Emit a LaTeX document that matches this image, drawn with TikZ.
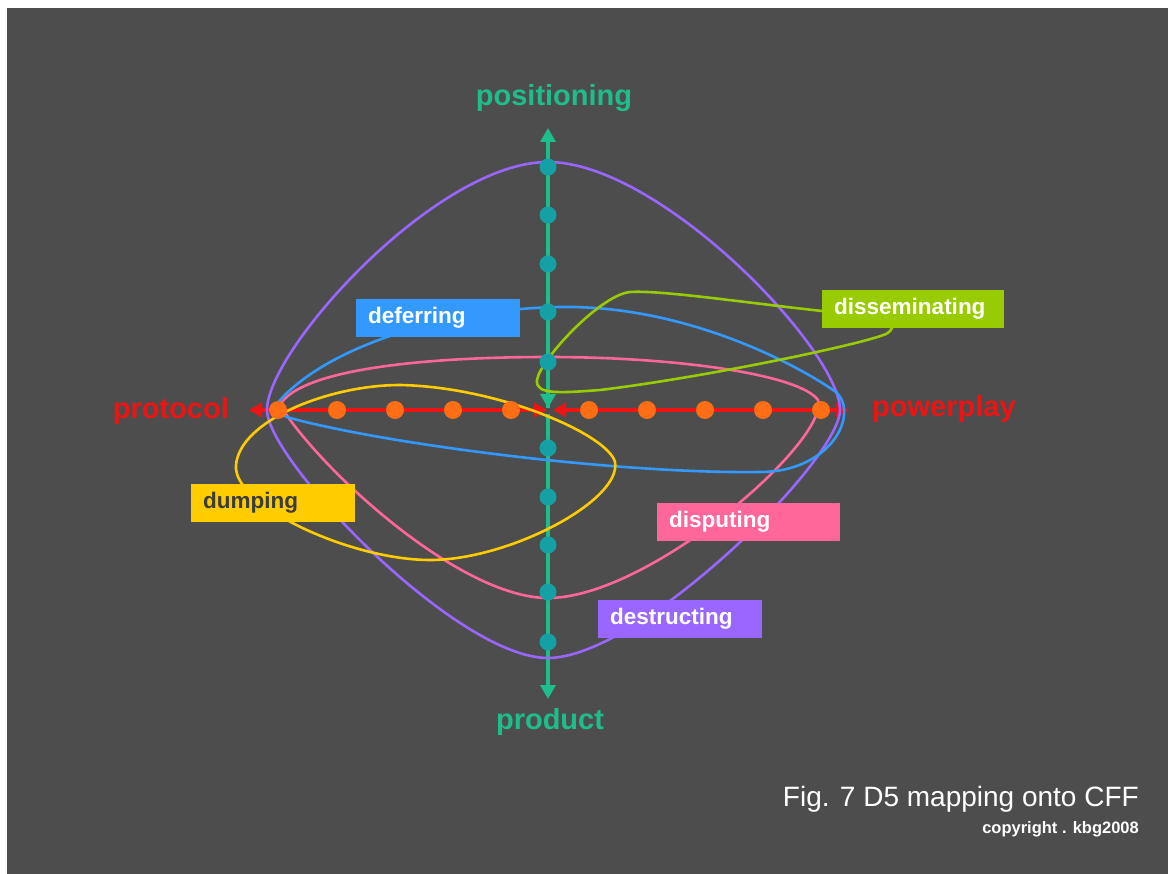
\documentclass[tikz,border=0pt]{standalone}
\usepackage{fontspec}
\setmainfont{Liberation Sans}
\usetikzlibrary{arrows.meta}
\definecolor{bg}{RGB}{77,77,77}
\definecolor{axteal}{RGB}{30,190,140}
\definecolor{dotteal}{RGB}{20,160,165}
\definecolor{axred}{RGB}{238,20,20}
\definecolor{dotorange}{RGB}{255,110,20}
\definecolor{cpurple}{RGB}{153,102,255}
\definecolor{cblue}{RGB}{51,153,255}
\definecolor{cpink}{RGB}{255,102,153}
\definecolor{cyellow}{RGB}{255,204,0}
\definecolor{cgreen}{RGB}{153,204,0}
\definecolor{darktext}{RGB}{60,60,60}
\tikzset{
  axlabel/.style={font=\fontsize{29}{34}\selectfont\bfseries, inner sep=0pt},
  lbox/.style={fill=#1, text=white, font=\fontsize{22.5}{26}\selectfont\bfseries,
    inner xsep=12pt, inner ysep=0pt, minimum height=38pt, align=left, anchor=north west},
  curve/.style={line width=2.6pt},
  tdot/.style={circle, fill=dotteal, minimum size=17pt, inner sep=0pt},
  odot/.style={circle, fill=dotorange, minimum size=18pt, inner sep=0pt},
  tarrow/.style={draw=axteal, line width=4pt, -{Triangle[width=15pt,length=14pt]}},
  rarrow/.style={draw=axred, line width=4pt, {Triangle[width=14pt,length=13pt]}-{Triangle[width=14pt,length=13pt]}},
}
\begin{document}
\begin{tikzpicture}[x=1pt,y=-1pt]
\useasboundingbox (0,0) rectangle (1168,874);
\fill[white] (0,0) rectangle (1168,874);
\fill[bg] (7,8) rectangle (1168,874);

% axes coordinates
\coordinate (top) at (548,128);
\coordinate (ctop) at (548,408);
\coordinate (cbot) at (548,414);
\coordinate (bot) at (548,699);
\coordinate (left) at (249,410);
\coordinate (cleft) at (547,410);
\coordinate (cright) at (553,410);
\coordinate (right) at (849,410);

% axes
\draw[tarrow] (ctop) -- (top);
\draw[tarrow] (548,300) -- (ctop);
\draw[tarrow] (cbot) -- (bot);
\draw[rarrow] (left) -- (cleft);
\draw[rarrow] (cright) -- (right);

% curves
% purple (destructing)
\draw[curve, draw=cpurple] (548,162) .. controls (660,162) and (840,350) .. (840,410)
  .. controls (840,460) and (640,658) .. (548,658)
  .. controls (456,658) and (267,460) .. (267,410)
  .. controls (267,350) and (436,162) .. (548,162) -- cycle;
% pink (disputing)
\draw[curve, draw=cpink] (280,405) .. controls (300,370) and (420,357) .. (548,357)
  .. controls (680,357) and (800,375) .. (818,400)
  .. controls (830,440) and (650,598) .. (548,598)
  .. controls (460,598) and (320,470) .. (280,405) -- cycle;
% blue (deferring)
\draw[curve, draw=cblue] (276,405) .. controls (320,350) and (440,309) .. (560,307)
  .. controls (680,305) and (790,360) .. (836,392)
  .. controls (860,415) and (830,472) .. (760,472)
  .. controls (620,474) and (390,445) .. (290,418)
  .. controls (275,413) and (272,409) .. (276,405) -- cycle;
% yellow (dumping)
\draw[curve, draw=cyellow] (236,465) .. controls (240,420) and (330,385) .. (400,385)
  .. controls (500,387) and (608,435) .. (615,462)
  .. controls (622,500) and (510,560) .. (430,560)
  .. controls (350,560) and (232,505) .. (236,465) -- cycle;
% green (disseminating)
\draw[curve, draw=cgreen] (880,313) -- (822,311) .. controls (740,302) and (660,290) .. (630,292)
  .. controls (600,295) and (540,360) .. (537,380)
  .. controls (535,395) and (560,393) .. (600,390)
  .. controls (700,378) and (860,345) .. (886,334)
  .. controls (893,330) and (894,326) .. (890,320);

% teal dots
\foreach \y [count=\i] in {167,215,264,312,362,448,497,545,592,642}
  \node[tdot] (t\i) at (548,\y) {};
% orange dots
\foreach \x [count=\i] in {278,337,395,453,511,589,647,705,763,821}
  \node[odot] (o\i) at (\x,410) {};

% axis labels
\node[axlabel, text=axteal] (positioning) at (554,98) {positioning};
\node[axlabel, text=axteal] (product) at (550,722) {product};
\node[axlabel, text=axred, anchor=east] (protocol) at (229,411) {protocol};
\node[axlabel, text=axred, anchor=west] (powerplay) at (872,409) {powerplay};

% label boxes
\node[lbox=cblue, text width=140pt] (deferring) at (356,299) {deferring};
\node[lbox=cgreen, text width=158pt] (disseminating) at (822,290) {disseminating};
\node[lbox=cyellow, text=darktext, text width=140pt] (dumping) at (191,484) {dumping};
\node[lbox=cpink, text width=159pt] (disputing) at (657,503) {disputing};
\node[lbox=cpurple, text width=140pt] (destructing) at (598,600) {destructing};

% caption
\node[text=white, font=\fontsize{28}{32}\selectfont, anchor=east, inner sep=0pt] (fig) at (1139,799) {Fig. 7 D5 mapping onto CFF};
\node[text=white, font=\fontsize{16.5}{18}\selectfont\bfseries, anchor=east, inner sep=0pt] (copy) at (1139,829) {copyright . kbg2008};
\end{tikzpicture}
\end{document}
